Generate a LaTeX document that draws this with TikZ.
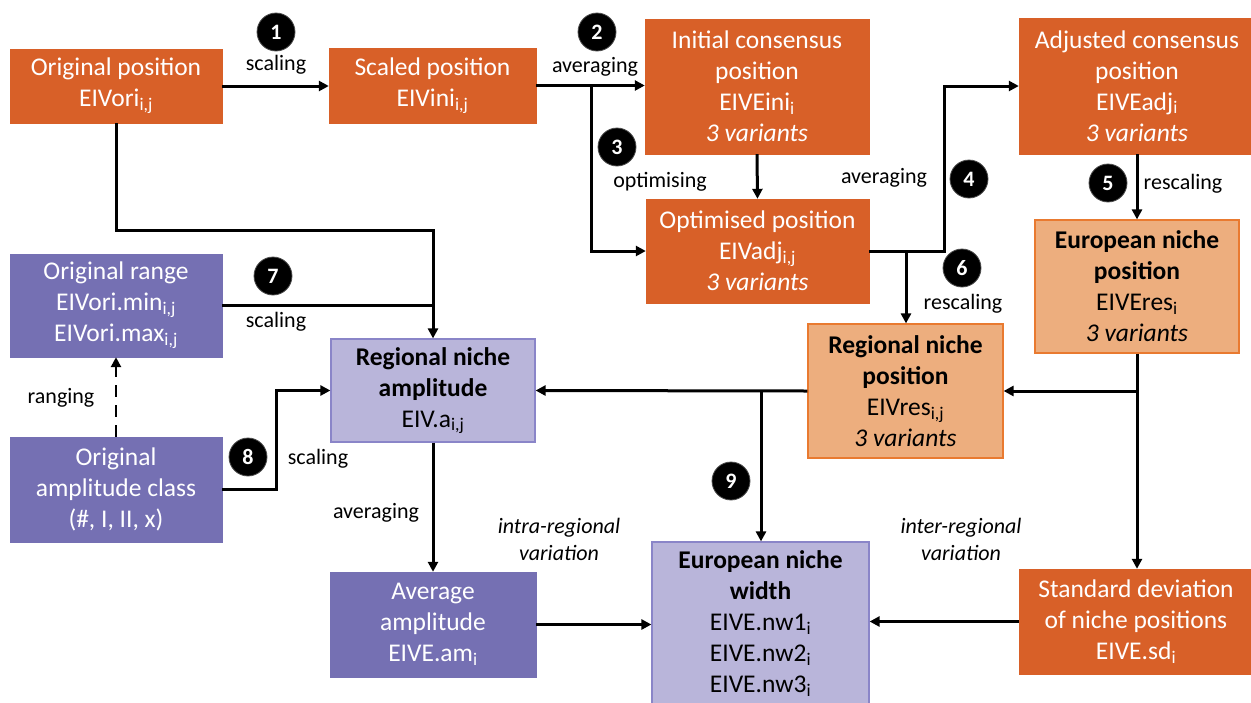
\documentclass[tikz,border=0pt]{standalone}
\usepackage{fontspec}
\setmainfont{Carlito}
\usetikzlibrary{arrows.meta}
\definecolor{dorange}{HTML}{D86028}
\definecolor{lorange}{HTML}{EDAE7E}
\definecolor{lorangeB}{HTML}{E97A30}
\definecolor{dpurple}{HTML}{7570B3}
\definecolor{lpurple}{HTML}{B9B5DA}
\definecolor{lpurpleB}{HTML}{8A85C8}
\begin{document}
\begin{tikzpicture}[x=1pt,y=-1pt,
  boxtext/.style={align=center,inner sep=0pt,font=\fontsize{25.5}{31}\selectfont},
  obox/.style={boxtext,rectangle,fill=dorange,draw=dorange,text=white},
  pbox/.style={boxtext,rectangle,fill=dpurple,draw=dpurple,text=white},
  lobox/.style={boxtext,rectangle,fill=lorange,draw=lorangeB,line width=1.2pt,text=black},
  lpbox/.style={boxtext,rectangle,fill=lpurple,draw=lpurpleB,line width=1.2pt,text=black},
  lbl/.style={inner sep=0pt,font=\fontsize{22}{27}\selectfont,align=center},
  num/.style={circle,fill=black,draw=black!70,line width=0.8pt,minimum size=38pt,inner sep=0pt,text=white,font=\fontsize{22}{22}\selectfont\bfseries},
  arr/.style={line width=3pt,-{Triangle[length=10pt,width=10pt]}},
  con/.style={line width=3pt}
]
\useasboundingbox (0,0) rectangle (1251,702);
\fill[white] (0,0) rectangle (1251,702);

% boxes
\node[obox,minimum width=212,minimum height=74] (op) at (116,86) {Original position\\EIVori\textsubscript{i,j}};
\node[obox,minimum width=207,minimum height=75] (sp) at (432.5,85.5) {Scaled position\\EIVini\textsubscript{i,j}};
\node[obox,minimum width=224,minimum height=135] (ic) at (757,86.5) {Initial consensus\\position\\EIVEini\textsubscript{i}\\\textit{3 variants}};
\node[obox,minimum width=223,minimum height=104] (opt) at (757.5,251) {Optimised position\\EIVadj\textsubscript{i,j}\\\textit{3 variants}};
\node[obox,minimum width=236,minimum height=136] (ac) at (1137,86) {Adjusted consensus\\position\\EIVEadj\textsubscript{i}\\\textit{3 variants}};
\node[lobox,minimum width=204,minimum height=133] (enp) at (1137,286.5) {\textbf{European niche}\\\textbf{position}\\EIVEres\textsubscript{i}\\\textit{3 variants}};
\node[lobox,minimum width=195,minimum height=134] (rnp) at (905.5,391) {\textbf{Regional niche}\\\textbf{position}\\EIVres\textsubscript{i,j}\\\textit{3 variants}};
\node[lpbox,minimum width=204,minimum height=103] (rna) at (433,390.5) {\textbf{Regional niche}\\\textbf{amplitude}\\EIV.a\textsubscript{i,j}};
\node[pbox,minimum width=212,minimum height=103] (or) at (116,305.5) {Original range\\EIVori.min\textsubscript{i,j}\\EIVori.max\textsubscript{i,j}};
\node[pbox,minimum width=212,minimum height=105] (oac) at (116,489.5) {Original\\amplitude class\\(\#, I, II, x)};
\node[pbox,minimum width=206,minimum height=105] (avg) at (433,624.5) {Average\\amplitude\\EIVE.am\textsubscript{i}};
\node[lpbox,minimum width=217,minimum height=163] (enw) at (760.5,623.5) {\textbf{European niche}\\\textbf{width}\\EIVE.nw1\textsubscript{i}\\EIVE.nw2\textsubscript{i}\\EIVE.nw3\textsubscript{i}};
\node[obox,minimum width=234,minimum height=105] (sd) at (1136,621.5) {Standard deviation\\of niche positions\\EIVE.sd\textsubscript{i}};

% junction coordinates
\coordinate (b3) at (591,86);
\coordinate (b4) at (944,251);
\coordinate (b6) at (906,251);
\coordinate (b9) at (761,391);
\coordinate (c1) at (116,230);
\coordinate (c8) at (276,489.5);

% connectors
\draw[arr] (op.east) -- (sp.west |- op.east);
\draw[arr] (sp.east) -- (ic.west |- sp.east);
\draw[arr] (b3) |- (opt.west);
\draw[arr] (ic.south) -- (opt.north);
\draw[arr] (opt.east) -- (b4) |- (ac.west);
\draw[arr] (b6) -- (b6 |- rnp.north);
\draw[arr] (ac.south) -- (enp.north);
\draw[arr] (enp.south) -- (enp.south |- sd.north);
\draw[arr] (enp.south |- rnp.east) -- (rnp.east);
\draw[arr] (rnp.west) -- (rna.east);
\draw[arr] (b9) -- (b9 |- enw.north);
\draw[arr] (op.south) -- (c1) -| (rna.north);
\draw[con] (or.east) -- (or.east -| rna.north);
\draw[arr,dashed,dash pattern=on 12pt off 8pt,line width=2.5pt] (oac.north) -- (or.south);
\draw[arr] (oac.east) -- (c8) |- (rna.west);
\draw[arr] (rna.south) -- (avg.north);
\draw[arr] (avg.east) -- (enw.west |- avg.east);
\draw[arr] (sd.west) -- (enw.east |- sd.west);

% numbers and labels
\node[num] (n1) at (276,32) {1};
\node[lbl] (l1) at (276,65) {scaling};
\node[num] (n2) at (597,32) {2};
\node[lbl] (l2) at (595,67) {averaging};
\node[num] (n3) at (617,147) {3};
\node[lbl] (l3) at (660,182) {optimising};
\node[lbl] (l4) at (884,178) {averaging};
\node[num] (n4) at (969,179) {4};
\node[num] (n5) at (1108,183) {5};
\node[lbl] (l5) at (1183,184) {rescaling};
\node[num] (n6) at (962,268) {6};
\node[lbl] (l6) at (963,304) {rescaling};
\node[num] (n7) at (273,276) {7};
\node[lbl] (l7) at (276,322) {scaling};
\node[lbl] (lr) at (61,398) {ranging};
\node[num] (n8) at (248,457) {8};
\node[lbl] (l8) at (318,459) {scaling};
\node[lbl] (la) at (376,513) {averaging};
\node[lbl,font=\fontsize{22}{27}\selectfont\itshape] (lintra) at (559,539.5) {intra-regional\\variation};
\node[num] (n9) at (731,481) {9};
\node[lbl,font=\fontsize{22}{27}\selectfont\itshape] (linter) at (961,539.5) {inter-regional\\variation};
\end{tikzpicture}
\end{document}
